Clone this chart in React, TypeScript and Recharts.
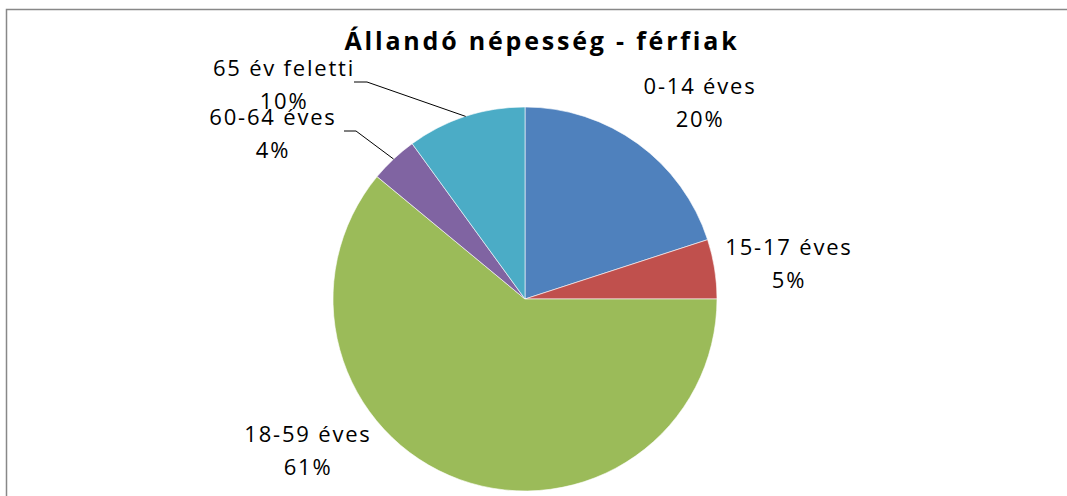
import React from 'react';
import { PieChart, Pie, Cell } from 'recharts';

const categories = ['0-14 éves', '15-17 éves', '18-59 éves', '60-64 éves', '65 év feletti'];
const values = [20, 5, 61, 4, 10];
const colors = ['#4F81BD', '#C0504D', '#9BBB59', '#8064A2', '#4BACC6'];
const title = 'Állandó népesség - férfiak';

const data = categories.map((name, i) => ({ name, value: values[i] }));

const W = 1067;
const H = 496;
const FONT = '"Open Sans", sans-serif';

// label anchor (first line baseline) offsets from the pie centre
const LABEL_OFFSETS: [number, number][] = [
  [175, -205],
  [264, -44],
  [-217, 143],
  [-252, -174],
  [-241, -223],
];
// leader lines: elbow and end, relative to the pie centre
const LEADERS: Record<number, [number, number][]> = {
  3: [[-169, -168], [-181, -168]],
  4: [[-158, -217], [-171, -217]],
};

const RAD = Math.PI / 180;

function renderLabel(props: any) {
  const { cx, cy, midAngle, outerRadius, percent, index, name } = props;
  const [ox, oy] = LABEL_OFFSETS[index];
  const x = cx + ox;
  const y = cy + oy;
  const leader = LEADERS[index];
  let line = null;
  if (leader) {
    const sx = cx + outerRadius * Math.cos(-midAngle * RAD);
    const sy = cy + outerRadius * Math.sin(-midAngle * RAD);
    const pts = [[sx, sy], ...leader.map(([a, b]) => [cx + a, cy + b])];
    line = (
      <polyline
        points={pts.map((p) => p.join(',')).join(' ')}
        fill="none"
        stroke="#000"
        strokeWidth={1}
      />
    );
  }
  return (
    <g key={`lbl-${index}`}>
      {line}
      <text
        x={x}
        y={y}
        textAnchor="middle"
        fontFamily={FONT}
        fontSize={22}
        letterSpacing={1.8}
        fill="#000"
      >
        <tspan x={x} dy={0}>{name}</tspan>
        <tspan x={x} dy={33}>{`${Math.round(percent * 100)}%`}</tspan>
      </text>
    </g>
  );
}

export default function App() {
  return (
    <div style={{ position: 'absolute', left: 0, top: 0, width: W, height: H, background: '#fff' }}>
      <svg width={W} height={H} style={{ position: 'absolute', left: 0, top: 0 }}>
        <rect x={6.5} y={9.5} width={W + 20} height={H + 20} fill="#fff" stroke="#888" strokeWidth={1.5} />
        <text
          x={542}
          y={50}
          textAnchor="middle"
          fontFamily={FONT}
          fontWeight="bold"
          fontSize={25}
          letterSpacing={2.8}
          fill="#000"
        >
          {title}
        </text>
      </svg>
      <div style={{ position: 'absolute', left: 0, top: 0 }}>
        <PieChart width={W} height={H} margin={{ top: 0, right: 0, bottom: 0, left: 0 }}>
          <Pie
            data={data}
            dataKey="value"
            nameKey="name"
            cx={525}
            cy={299}
            outerRadius={192}
            startAngle={90}
            endAngle={-270}
            stroke="#fff"
            strokeWidth={0.6}
            label={renderLabel}
            labelLine={false}
            isAnimationActive={false}
          >
            {data.map((d, i) => (
              <Cell key={d.name} fill={colors[i]} />
            ))}
          </Pie>
        </PieChart>
      </div>
    </div>
  );
}
